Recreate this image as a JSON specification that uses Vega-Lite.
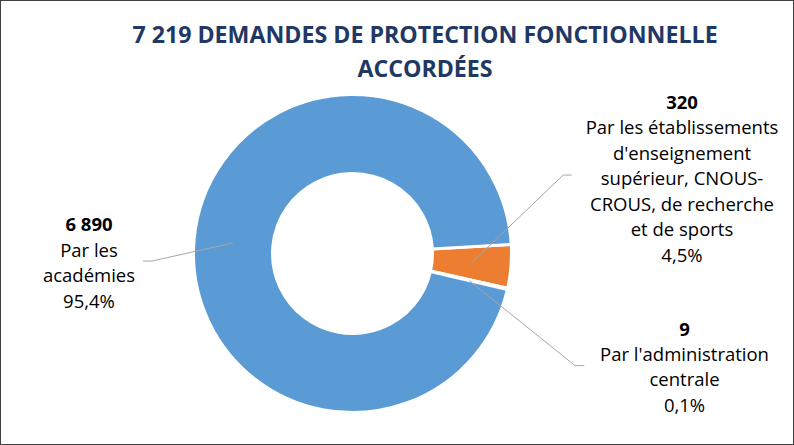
{
  "$schema": "https://vega.github.io/schema/vega-lite/v6.json",
  "width": 794,
  "height": 445,
  "autosize": "none",
  "padding": 0,
  "background": "white",
  "config": {
    "view": {"stroke": "#404040", "strokeWidth": 2},
    "font": "Open Sans"
  },
  "title": {
    "text": ["7 219 DEMANDES DE PROTECTION FONCTIONNELLE", "ACCORDÉES"],
    "font": "Open Sans",
    "fontSize": 23.2,
    "fontWeight": "bold",
    "color": "#1F3864",
    "anchor": "middle",
    "dx": 28,
    "offset": -100,
    "baseline": "alphabetic",
    "lineHeight": 34
  },
  "datasets": {
    "parts": [
      {"categorie": "Par les établissements d'enseignement supérieur, CNOUS-CROUS, de recherche et de sports", "valeur": 320, "pct": "4,5%", "ordre": 1},
      {"categorie": "Par l'administration centrale", "valeur": 9, "pct": "0,1%", "ordre": 2},
      {"categorie": "Par les académies", "valeur": 6890, "pct": "95,4%", "ordre": 3}
    ],
    "etiquettes": [
      {"categorie": "etab", "nombre": "320", "lignes": ["Par les établissements", "d'enseignement", "supérieur, CNOUS-", "CROUS, de recherche", "et de sports", "4,5%"], "xn": 2.092, "yn": 0.956, "xt": 2.092, "yt": 0.794},
      {"categorie": "admin", "nombre": "9", "lignes": ["Par l'administration", "centrale", "0,1%"], "xn": 2.108, "yn": -0.486, "xt": 2.108, "yt": -0.644},
      {"categorie": "acad", "nombre": "6 890", "lignes": ["Par les", "académies", "95,4%"], "xn": -1.673, "yn": 0.181, "xt": -1.673, "yt": 0.016}
    ],
    "guides": [
      {"serie": "acad", "pt": 1, "gx": -0.759, "gy": 0.067},
      {"serie": "acad", "pt": 2, "gx": -1.273, "gy": -0.048},
      {"serie": "acad", "pt": 3, "gx": -1.330, "gy": -0.048},
      {"serie": "etab", "pt": 1, "gx": 0.757, "gy": -0.058},
      {"serie": "etab", "pt": 2, "gx": 1.338, "gy": 0.498},
      {"serie": "etab", "pt": 3, "gx": 1.392, "gy": 0.498},
      {"serie": "admin", "pt": 1, "gx": 0.742, "gy": -0.173},
      {"serie": "admin", "pt": 2, "gx": 1.413, "gy": -0.712},
      {"serie": "admin", "pt": 3, "gx": 1.472, "gy": -0.712}
    ]
  },
  "resolve": {"scale": {"x": "shared", "y": "shared"}},
  "layer": [
    {
      "data": {"name": "parts"},
      "mark": {"type": "arc", "radius": 159, "radius2": 80, "stroke": "white", "strokeWidth": 3},
      "encoding": {
        "x": {"datum": 0, "type": "quantitative", "scale": {"domain": [-2.2381, 2.8032], "nice": false, "zero": false}, "axis": null},
        "y": {"datum": 0, "type": "quantitative", "scale": {"domain": [-1.2159, 1.6095], "nice": false, "zero": false}, "axis": null},
        "theta": {"field": "valeur", "type": "quantitative", "stack": true, "scale": {"range": [1.5132, 7.7964]}},
        "order": {"field": "ordre", "type": "quantitative"},
        "color": {
          "field": "categorie", "type": "nominal", "legend": null,
          "scale": {
            "domain": ["Par les établissements d'enseignement supérieur, CNOUS-CROUS, de recherche et de sports", "Par l'administration centrale", "Par les académies"],
            "range": ["#ED7D31", "#A5A5A5", "#5B9BD5"]
          }
        }
      }
    },
    {
      "data": {"name": "guides"},
      "mark": {"type": "line", "color": "#A6A6A6", "strokeWidth": 1},
      "encoding": {
        "x": {"field": "gx", "type": "quantitative", "axis": null},
        "y": {"field": "gy", "type": "quantitative", "axis": null},
        "detail": {"field": "serie"},
        "order": {"field": "pt", "type": "quantitative"}
      }
    },
    {
      "data": {"name": "etiquettes"},
      "mark": {"type": "text", "fontSize": 18.5, "fontWeight": "bold", "color": "#000000", "align": "center", "baseline": "middle"},
      "encoding": {
        "x": {"field": "xn", "type": "quantitative", "axis": null},
        "y": {"field": "yn", "type": "quantitative", "axis": null},
        "text": {"field": "nombre"}
      }
    },
    {
      "data": {"name": "etiquettes"},
      "mark": {"type": "text", "fontSize": 18.5, "color": "#000000", "align": "center", "baseline": "middle", "lineHeight": 25.5},
      "encoding": {
        "x": {"field": "xt", "type": "quantitative", "axis": null},
        "y": {"field": "yt", "type": "quantitative", "axis": null},
        "text": {"field": "lignes"}
      }
    }
  ]
}
